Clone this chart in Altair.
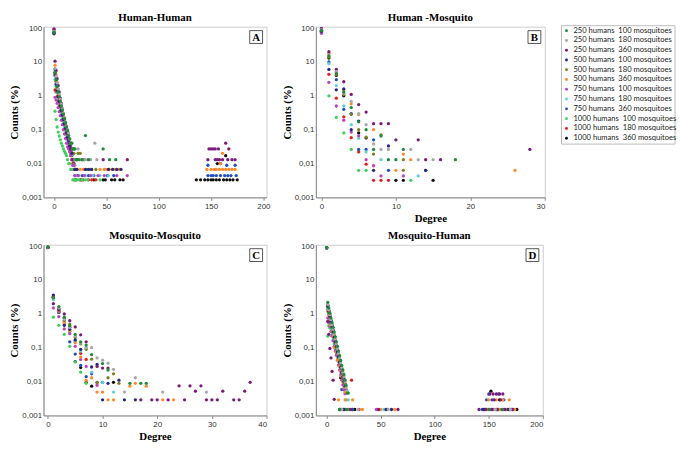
import altair as alt
import pandas as pd

SERIES = [
    "250 humans\u00a0 100 mosquitoes", "250 humans\u00a0 180 mosquitoes", "250 humans\u00a0 360 mosquitoes",
    "500 humans\u00a0 100 mosquitoes", "500 humans\u00a0 180 mosquitoes", "500 humans\u00a0 360 mosquitoes",
    "750 humans\u00a0 100 mosquitoes", "750 humans\u00a0 180 mosquitoes", "750 humans\u00a0 360 mosquitoes",
    "1000 humans\u00a0 100 mosquitoes", "1000 humans\u00a0 180 mosquitoes", "1000 humans\u00a0 360 mosquitoes",
]
COLORS = ["#1f8a3c", "#a8a8a8", "#7a1a7a", "#262680", "#808020", "#ff8a2a",
          "#c040c0", "#60d0d0", "#2050c0", "#40d060", "#e02020", "#101010"]

# ---------- Panel A: Human-Human (counts for degree 0,1,2,... then extra (degree, count) points) ----------
HH_MAIN = [
    [75, 5.0, 3.0, 1.9, 1.3, 0.95, 0.7, 0.5, 0.38, 0.29, 0.21, 0.16, 0.12, 0.093, 0.067, 0.053, 0.04, 0.04, 0.027, 0.027, 0.027, 0.013, 0.013],
    [80, 6.5, 3.8, 2.4, 1.6, 1.1, 0.8, 0.58, 0.42, 0.31, 0.23, 0.17, 0.13, 0.1, 0.08, 0.053, 0.04, 0.04, 0.027, 0.027, 0.013, 0.013],
    [95, 10.5, 5.5, 3.2, 2.0, 1.3, 0.85, 0.6, 0.42, 0.3, 0.21, 0.15, 0.11, 0.08, 0.053, 0.04, 0.027, 0.027, 0.013, 0.013],
    [70, 4.0, 2.2, 1.4, 0.95, 0.68, 0.5, 0.37, 0.27, 0.2, 0.15, 0.11, 0.08, 0.06, 0.047, 0.033, 0.027, 0.02, 0.013, 0.013, 0.0067],
    [78, 4.5, 2.6, 1.7, 1.15, 0.8, 0.58, 0.42, 0.31, 0.23, 0.17, 0.13, 0.093, 0.07, 0.053, 0.04, 0.033, 0.027, 0.02, 0.02, 0.013, 0.0067],
    [88, 8.0, 4.2, 2.5, 1.6, 1.05, 0.72, 0.5, 0.36, 0.26, 0.19, 0.13, 0.1, 0.073, 0.053, 0.04, 0.027, 0.02, 0.013, 0.013, 0.0067],
    [92, 0.9, 0.75, 0.6, 0.45, 0.34, 0.26, 0.19, 0.14, 0.1, 0.075, 0.055, 0.04, 0.031, 0.027, 0.022, 0.018, 0.013, 0.0089, 0.0089, 0.0044],
    [72, 3.0, 1.9, 1.25, 0.85, 0.6, 0.43, 0.31, 0.23, 0.17, 0.12, 0.09, 0.067, 0.049, 0.036, 0.027, 0.02, 0.018, 0.013, 0.0089, 0.0089, 0.0044],
    [85, 6.0, 3.3, 2.0, 1.3, 0.88, 0.6, 0.42, 0.3, 0.21, 0.15, 0.11, 0.08, 0.058, 0.04, 0.031, 0.022, 0.018, 0.013, 0.0089, 0.0044],
    [82, 0.35, 0.2, 0.12, 0.085, 0.065, 0.05, 0.04, 0.033, 0.027, 0.023, 0.02, 0.017, 0.013, 0.01, 0.01, 0.0067, 0.0067, 0.0033, 0.0033],
    [68, 1.5, 1.3, 0.95, 0.7, 0.5, 0.36, 0.26, 0.19, 0.14, 0.1, 0.073, 0.053, 0.04, 0.03, 0.023, 0.017, 0.013, 0.01, 0.0067, 0.0033],
    [74, 4.8, 2.8, 1.8, 1.2, 0.83, 0.58, 0.41, 0.29, 0.21, 0.15, 0.11, 0.077, 0.057, 0.04, 0.03, 0.023, 0.017, 0.013, 0.01, 0.0067, 0.0033],
]
HH_TAIL = [
    [(24, 0.013), (27, 0.013), (30, 0.067), (33, 0.013), (47, 0.027), (53, 0.013), (59, 0.013)],
    [(23, 0.027), (26, 0.013), (29, 0.013), (32, 0.013), (35, 0.013), (39, 0.04), (41, 0.013)],
    [(22, 0.013), (29, 0.013), (47, 0.013), (70, 0.013), (148, 0.027), (150, 0.027), (152, 0.027), (154, 0.027),
     (157, 0.027), (167, 0.027), (164, 0.04), (147, 0.013), (154, 0.013), (156, 0.013), (158, 0.013), (161, 0.013),
     (166, 0.013), (170, 0.013), (173, 0.013)],
    [(22, 0.0067), (30, 0.0067), (33, 0.0067), (36, 0.0067), (52, 0.0067), (56, 0.0067), (60, 0.0067), (64, 0.0067)],
    [(23, 0.02), (25, 0.02), (27, 0.013), (31, 0.0067), (35, 0.0067), (40, 0.0067)],
    [(21, 0.0067), (25, 0.0067), (28, 0.0067), (44, 0.0067), (48, 0.0067), (50, 0.0067), (53, 0.0067), (58, 0.0067),
     (62, 0.0067), (146, 0.0067), (150, 0.0067), (153, 0.0067), (155, 0.0067), (158, 0.0067), (161, 0.0067),
     (164, 0.0067), (167, 0.0067), (170, 0.0067), (173, 0.0067), (161, 0.02), (159, 0.01)],
    [(23, 0.0044), (29, 0.0044), (35, 0.0044), (42, 0.0044), (48, 0.0044), (60, 0.0044), (70, 0.0044)],
    [(24, 0.0044), (30, 0.0044), (37, 0.0044), (44, 0.0044), (52, 0.0044)],
    [(23, 0.0044), (27, 0.0044), (33, 0.0044), (38, 0.0044), (51, 0.0044), (57, 0.0044), (147, 0.0044), (150, 0.0044),
     (152, 0.0044), (155, 0.0044), (159, 0.0044), (163, 0.0044), (166, 0.0044), (169, 0.0044), (174, 0.0044),
     (147, 0.0089), (165, 0.0089), (173, 0.0089)],
    [(20, 0.0033), (22, 0.0033), (24, 0.0033), (27, 0.0033), (30, 0.0033), (32, 0.0033), (44, 0.0033)],
    [(25, 0.0033), (28, 0.0033), (33, 0.0033), (36, 0.0033), (40, 0.0033)],
    [(26, 0.0033), (38, 0.0033), (47, 0.0033), (49, 0.0033), (55, 0.0033), (58, 0.0033), (63, 0.0033), (66, 0.0033),
     (136, 0.0033), (140, 0.0033), (144, 0.0033), (147, 0.0033), (150, 0.0033), (152, 0.0033), (155, 0.0033),
     (158, 0.0033), (162, 0.0033), (165, 0.0033), (168, 0.0033), (171, 0.0033), (175, 0.0033), (164, 0.017),
     (156, 0.01), (159, 0.01)],
]

# ---------- Panel B: Human-Mosquito (degree, count) ----------
HM_PTS = [
    [(0, 85), (1, 15), (2, 4.5), (3, 1.3), (4, 0.45), (5, 0.17), (6, 0.1), (7, 0.026), (8, 0.065), (9, 0.013), (10, 0.013), (11, 0.026), (18, 0.013)],
    [(0, 90), (1, 16), (2, 5.2), (3, 1.2), (4, 0.68), (5, 0.3), (6, 0.14), (7, 0.038), (8, 0.026), (9, 0.026), (12, 0.026), (13, 0.013), (15, 0.013)],
    [(0, 98), (1, 20), (2, 6), (3, 2.6), (4, 1.1), (5, 0.55), (6, 0.33), (7, 0.15), (8, 0.15), (9, 0.15), (10, 0.05), (13, 0.05), (14, 0.013), (16, 0.013), (28, 0.026)],
    [(0, 80), (1, 6), (2, 1.5), (3, 1.6), (4, 0.1), (5, 0.18), (7, 0.0063), (9, 0.033), (14, 0.0063)],
    [(0, 82), (1, 14), (2, 4.2), (3, 1.1), (4, 0.29), (5, 0.1), (6, 0.06), (7, 0.019), (8, 0.07), (11, 0.013), (11, 0.0063)],
    [(0, 86), (1, 18), (2, 5), (3, 1.5), (4, 0.58), (5, 0.28), (7, 0.1), (10, 0.0063), (11, 0.019), (12, 0.013), (26, 0.0063)],
    [(0, 70), (1, 2.5), (2, 0.5), (3, 0.19), (4, 0.085), (5, 0.066), (6, 0.013), (7, 0.0086), (8, 0.0043), (11, 0.0043)],
    [(0, 84), (1, 8.9), (2, 2), (3, 0.5), (4, 0.14), (5, 0.056), (6, 0.022), (8, 0.013), (13, 0.0043)],
    [(0, 94), (1, 10), (2, 3), (3, 0.4), (4, 0.3), (5, 0.026), (6, 0.026), (7, 0.05), (9, 0.0063), (14, 0.0063)],
    [(0, 76), (1, 1.0), (2, 0.23), (3, 0.08), (4, 0.026), (5, 0.0063), (6, 0.0063), (12, 0.0032)],
    [(0, 78), (1, 4.3), (2, 0.85), (3, 0.24), (4, 0.058), (5, 0.022), (6, 0.0096), (7, 0.0032), (8, 0.0032), (9, 0.0032)],
    [(0, 87), (1, 13), (2, 4), (3, 1.0), (4, 0.29), (5, 0.08), (6, 0.057), (10, 0.0032), (11, 0.0032), (15, 0.0032)],
]

# ---------- Panel C: Mosquito-Mosquito (degree, count) ----------
MM_PTS = [
    [(0, 95), (1, 3.0), (2, 1.65), (3, 0.8), (4, 0.45), (5, 0.25), (6, 0.15), (7, 0.12), (8, 0.063), (10, 0.034), (11, 0.022), (15, 0.0089), (17, 0.0089), (18, 0.0089)],
    [(0, 94), (1, 2.8), (2, 1.5), (3, 0.7), (4, 0.4), (5, 0.22), (6, 0.14), (7, 0.1), (8, 0.1), (9, 0.05), (10, 0.043), (11, 0.035), (12, 0.023), (14, 0.0049), (16, 0.013), (21, 0.0049), (29, 0.0049)],
    [(0, 93), (1, 2.0), (2, 1.3), (3, 1.0), (4, 0.63), (5, 0.41), (6, 0.24), (7, 0.15), (9, 0.028), (10, 0.025), (11, 0.025), (17, 0.0029), (19, 0.0029), (20, 0.0029), (22, 0.0029), (24, 0.0075), (25, 0.0029), (26, 0.0075), (27, 0.0052), (28, 0.0075), (29, 0.0029), (30, 0.0029), (31, 0.0029), (32, 0.0052), (34, 0.0029), (35, 0.0029), (36, 0.0052), (37, 0.0095)],
    [(0, 92), (1, 3.6), (2, 1.4), (3, 0.46), (4, 0.35), (5, 0.17), (6, 0.09), (8, 0.027), (9, 0.032), (10, 0.0029), (11, 0.0089), (13, 0.011), (14, 0.0029), (16, 0.0029)],
    [(0, 92), (1, 3.2), (2, 1.4), (3, 0.65), (4, 0.5), (5, 0.2), (6, 0.13), (7, 0.09), (8, 0.046), (9, 0.0093), (11, 0.013), (12, 0.017), (13, 0.0089)],
    [(0, 93), (1, 3.3), (2, 1.2), (3, 0.55), (4, 0.32), (5, 0.14), (6, 0.053), (7, 0.011), (8, 0.013), (9, 0.0049), (10, 0.0049), (11, 0.0029), (12, 0.0029), (15, 0.0073), (16, 0.0089), (18, 0.0073), (21, 0.0029), (23, 0.0029)],
    [(0, 91), (1, 1.5), (2, 0.83), (3, 0.36), (4, 0.26), (5, 0.11), (6, 0.045), (7, 0.028), (9, 0.0078)],
    [(0, 92), (1, 2.6), (2, 1.3), (3, 0.6), (4, 0.3), (5, 0.15), (6, 0.08), (7, 0.1), (8, 0.019), (10, 0.0095), (12, 0.0049)],
    [(0, 91), (1, 3.3), (2, 1.1), (3, 0.5), (4, 0.15), (5, 0.065), (6, 0.03), (7, 0.014), (8, 0.017), (9, 0.0095), (10, 0.0095)],
    [(0, 90), (1, 0.8), (2, 0.46), (3, 0.25), (4, 0.11), (5, 0.038), (6, 0.019), (7, 0.0089)],
    [(0, 92), (1, 3.0), (2, 1.1), (3, 0.58), (4, 0.3), (5, 0.16), (6, 0.068), (7, 0.045)],
    [(0, 93), (1, 3.1), (2, 1.2), (3, 0.75), (4, 0.4), (5, 0.039), (6, 0.026), (7, 0.0095), (8, 0.0073), (12, 0.0095)],
]

# ---------- Panel D: Mosquito-Human (counts for degree 0,1,2,... then extra (degree, count) points) ----------
MH_MAIN = [
    [90, 2.2, 1.5, 1.05, 0.75, 0.55, 0.4, 0.29, 0.21, 0.15, 0.11, 0.08, 0.058, 0.042, 0.03, 0.022, 0.016, 0.011, 0.0077, 0.0046, 0.0046],
    [89, 1.9, 1.3, 0.95, 0.68, 0.48, 0.35, 0.25, 0.18, 0.13, 0.095, 0.068, 0.05, 0.036, 0.026, 0.019, 0.014, 0.0098, 0.0067],
    [88, 0.6, 0.25, 0.095, 0.05, 0.02, 0.011, 0.003],
    [90, 1.7, 1.2, 0.85, 0.6, 0.42, 0.3, 0.21, 0.15, 0.11, 0.075, 0.054, 0.038, 0.027, 0.019, 0.014, 0.01, 0.0072],
    [91, 1.6, 1.1, 0.8, 0.56, 0.4, 0.28, 0.2, 0.14, 0.1, 0.07, 0.05, 0.036, 0.026, 0.018, 0.013, 0.0092],
    [90, 1.2, 0.9, 0.62, 0.45, 0.3, 0.22, 0.1, 0.11, 0.075, 0.045, 0.04, 0.028, 0.02, 0.014, 0.0098, 0.0069, 0.0049],
    [89, 0.75, 0.55, 0.42, 0.3, 0.22, 0.16, 0.11, 0.08, 0.06, 0.043, 0.031, 0.022, 0.016, 0.011, 0.0081, 0.0058, 0.0044],
    [90, 1.4, 1.0, 0.72, 0.52, 0.38, 0.27, 0.19, 0.14, 0.1, 0.073, 0.052, 0.037, 0.027, 0.019, 0.014, 0.01, 0.0073, 0.0052, 0.0052],
    [90, 1.5, 1.05, 0.75, 0.53, 0.37, 0.26, 0.18, 0.13, 0.09, 0.063, 0.044, 0.031, 0.022, 0.0058, 0.011, 0.0078, 0.0055],
    [88, 0.22, 0.45, 0.38, 0.3, 0.23, 0.17, 0.13, 0.095, 0.07, 0.052, 0.038, 0.028, 0.02, 0.015, 0.011, 0.008],
    [89, 1.3, 0.95, 0.68, 0.5, 0.36, 0.26, 0.19, 0.14, 0.1, 0.074, 0.054, 0.04, 0.029, 0.021, 0.015, 0.011, 0.008, 0.0058],
    [90, 1.8, 1.25, 0.9, 0.64, 0.46, 0.33, 0.24, 0.17, 0.12, 0.087, 0.062, 0.044, 0.013, 0.024, 0.017, 0.012, 0.0085],
]
MH_TAIL = [
    [(12, 0.0015), (19, 0.0015), (150, 0.0015), (162, 0.0015)],
    [(14, 0.0015), (29, 0.0015), (57, 0.0015), (156, 0.0015), (170, 0.0015)],
    [(13, 0.0015), (22, 0.0015), (48, 0.0015), (66, 0.0015), (141, 0.0015), (147, 0.0015), (153, 0.0015), (158, 0.0015),
     (165, 0.0015), (172, 0.0015), (151, 0.0043), (154, 0.0043), (157, 0.0043), (160, 0.0043), (163, 0.0043),
     (155, 0.0029), (161, 0.0029)],
    [(16, 0.0015), (55, 0.0015), (60, 0.0015), (145, 0.0015), (168, 0.0015)],
    [(17, 0.0015), (152, 0.0015), (164, 0.0015)],
    [(11, 0.0029), (15, 0.0015), (21, 0.0015), (33, 0.0015), (50, 0.0015), (63, 0.0015), (149, 0.0015), (160, 0.0015),
     (167, 0.0015), (174, 0.0015), (150, 0.0029), (157, 0.0029), (163, 0.0029), (169, 0.0029), (17, 0.0029), (24, 0.0029)],
    [(18, 0.0015), (46, 0.0015), (154, 0.0015), (166, 0.0015)],
    [(20, 0.0015), (20, 0.0029), (53, 0.0015), (158, 0.0015)],
    [(15, 0.0015), (24, 0.0015), (56, 0.0015), (144, 0.0015), (151, 0.0015), (159, 0.0015), (171, 0.0015),
     (148, 0.0029), (153, 0.0029), (164, 0.0029), (150, 0.0043), (159, 0.0043)],
    [(18, 0.0029), (23, 0.0015), (155, 0.0015)],
    [(24, 0.0015), (30, 0.0015), (148, 0.0015), (163, 0.0015), (173, 0.0015), (23, 0.011)],
    [(12, 0.0015), (26, 0.0015), (146, 0.0015), (157, 0.0015), (169, 0.0015), (176, 0.0015), (152, 0.0052), (160, 0.0029)],
]

Y_TICKS = [0.001, 0.01, 0.1, 1, 10, 100]
COLOR_SCALE = alt.Scale(domain=SERIES, range=COLORS)


def build_frame(main=None, tail=None, pts=None):
    recs = []
    for i, name in enumerate(SERIES):
        rows = []
        if main is not None:
            rows += list(enumerate(main[i]))
        if tail is not None:
            rows += tail[i]
        if pts is not None:
            rows += pts[i]
        for d, v in rows:
            recs.append({"series": name, "ord": i, "deg": d, "cnt": v})
    return pd.DataFrame(recs)


def legend_layers(w):
    # hand-drawn legend box to the right of panel B
    leg = pd.DataFrame({"series": SERIES, "row": list(range(len(SERIES)))})
    ypos = alt.Y("row:Q", scale=alt.Scale(domain=[0, 11], range=[4, 113]), axis=None)
    frame = alt.Chart(pd.DataFrame({"t": [0]})).mark_rect(
        fill="white", stroke="#bbbbbb", strokeWidth=1
    ).encode(x=alt.value(w + 17), x2=alt.value(w + 132), y=alt.value(-1), y2=alt.value(119))
    dots = alt.Chart(leg).mark_point(filled=True, shape="circle", size=9, opacity=1).encode(
        x=alt.value(w + 22), y=ypos, color=alt.Color("series:N", scale=COLOR_SCALE, legend=None)
    )
    labels = alt.Chart(leg).mark_text(
        align="left", baseline="middle", font="Lato", fontSize=7.7, color="#222222"
    ).encode(x=alt.value(w + 29), y=ypos, text="series:N")
    return [frame, dots, labels]


def panel(df, title, xdom, xvals, xtitle, letter, w, h, with_legend=False):
    xaxis = alt.Axis(values=xvals, title=xtitle) if xtitle else alt.Axis(values=xvals, title=None)
    pts = alt.Chart(df).mark_point(filled=True, shape="circle", size=11, opacity=1).encode(
        x=alt.X("deg:Q", scale=alt.Scale(domain=xdom, nice=False, zero=False), axis=xaxis),
        y=alt.Y("cnt:Q", scale=alt.Scale(type="log", domain=[0.001, 110], nice=False),
                axis=alt.Axis(values=Y_TICKS, title="Counts  (%)", ticks=False,
                              labelExpr="replace(format(datum.value, ''), '.', ',')")),
        color=alt.Color("series:N", scale=COLOR_SCALE, legend=None),
        order=alt.Order("ord:Q", sort="descending"),
    )
    box = alt.Chart(pd.DataFrame({"t": [letter]})).mark_rect(
        fill="white", stroke="#555555", strokeWidth=1
    ).encode(x=alt.value(w - 17), x2=alt.value(w - 4), y=alt.value(4), y2=alt.value(17))
    txt = alt.Chart(pd.DataFrame({"t": [letter]})).mark_text(
        font="Liberation Serif", fontWeight="bold", fontSize=11, color="black", baseline="middle", align="center"
    ).encode(x=alt.value(w - 10.5), y=alt.value(11), text="t:N")
    layers = [pts, box, txt]
    if with_legend:
        layers += legend_layers(w)
    out = alt.layer(*layers)
    if with_legend:
        out = out.resolve_scale(y="independent")
    return out.properties(
        width=w, height=h,
        title=alt.TitleParams(title, font="Liberation Serif", fontSize=11, fontWeight="bold", color="black", offset=1),
    )


H = 173
pa = panel(build_frame(main=HH_MAIN, tail=HH_TAIL), "Human-Human", [-10, 203], [0, 50, 100, 150, 200], None, "A", 226, H)
pb = panel(build_frame(pts=HM_PTS), "Human -Mosquito", [-0.75, 30], [0, 10, 20, 30], "Degree", "B", 232, H, with_legend=True)
pc = panel(build_frame(pts=MM_PTS), "Mosquito-Mosquito", [-0.8, 40], [0, 10, 20, 30, 40], "Degree", "C", 226, H)
pd_ = panel(build_frame(main=MH_MAIN, tail=MH_TAIL), "Mosquito-Human", [-10, 200], [0, 50, 100, 150, 200], "Degree", "D", 230, H)

chart = alt.concat(pa, pb, pc, pd_, columns=2, spacing={"row": 5, "column": 10}).properties(
    padding={"left": 0, "top": 0, "right": 0, "bottom": 0},
).configure_view(
    stroke="#cccccc", strokeWidth=1
).configure_axis(
    grid=False, domainColor="#888888", tickColor="#888888", tickSize=3,
    labelFont="Liberation Sans", labelFontSize=8, labelColor="#333333", labelPadding=2,
    titleFont="Liberation Serif", titleFontSize=11, titleFontWeight="bold", titleColor="black", titlePadding=2,
)

chart.save("out.html", embed_options={"renderer": "svg", "actions": False})
